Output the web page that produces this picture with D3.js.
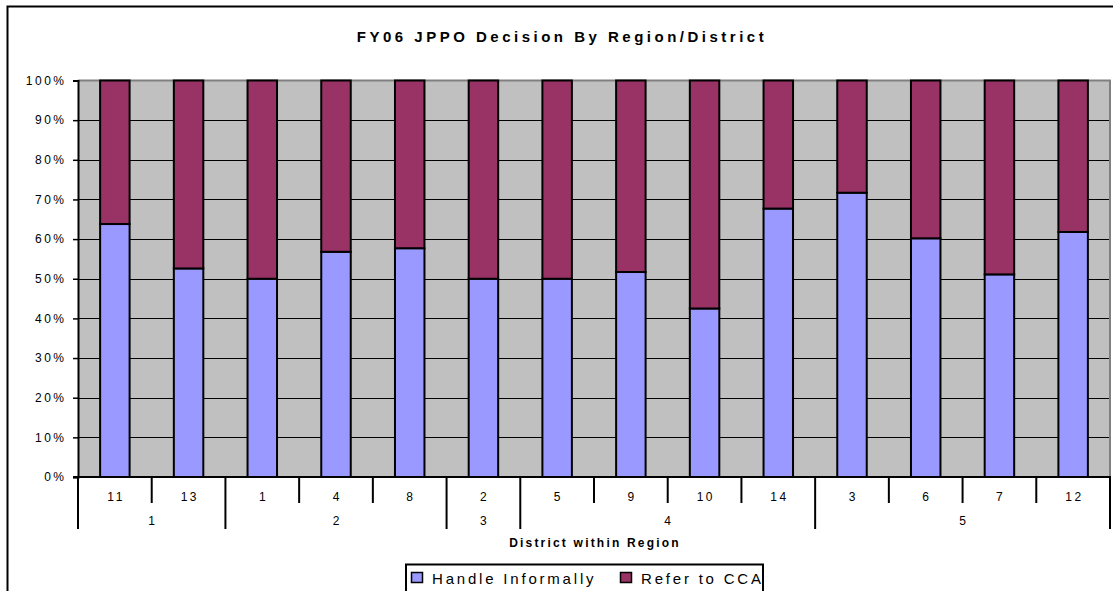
<!DOCTYPE html>
<html lang="en">
	<head>
		<meta charset="utf-8">
		<title>FY06 JPPO Decision By Region/District</title>
		<script type="text/javascript" src="https://cdn.jsdelivr.net/npm/d3@7"></script>
		<style type="text/css">
			body { margin: 0; background: #fff; }
			svg text { font-family: "Liberation Sans", Arial, sans-serif; fill: #000; }
			.axis text { font-size: 12px; letter-spacing: 2.5px; }
			.grid line { stroke: #000; stroke-width: 1; shape-rendering: crispEdges; }
			.title { font-size: 15px; font-weight: bold; letter-spacing: 3.5px; }
			.axis-title { font-size: 12px; font-weight: bold; letter-spacing: 2.2px; }
			.legend text { font-size: 15px; letter-spacing: 2.8px; }
		</style>
	</head>
	<body>
		<script type="text/javascript">

			// categories: district within region
			var districts = ["11", "13", "1", "4", "8", "2", "5", "9", "10", "14", "3", "6", "7", "12"];
			var regions   = ["1", "1", "2", "2", "2", "3", "4", "4", "4", "4", "5", "5", "5", "5"];

			// share of decisions (%)
			var handleInformally = [63.8, 52.6, 50.0, 56.8, 57.7, 50.0, 50.0, 51.7, 42.5, 67.7, 71.7, 60.2, 51.1, 61.8];
			var referToCCA       = [36.2, 47.4, 50.0, 43.2, 42.3, 50.0, 50.0, 48.3, 57.5, 32.3, 28.3, 39.8, 48.9, 38.2];

			var seriesNames  = ["Handle Informally", "Refer to CCA"];
			var seriesColors = ["#9999FF", "#993366"];
			var yTicks = [0, 0.1, 0.2, 0.3, 0.4, 0.5, 0.6, 0.7, 0.8, 0.9, 1];

			var W = 1113, H = 591;
			var plot = {left: 78, right: 1110, top: 80.5, bottom: 477};

			var table = districts.map(function(d, i) {
				return {key: i, district: d, region: regions[i],
					"Handle Informally": handleInformally[i], "Refer to CCA": referToCCA[i]};
			});

			var stacked = d3.stack()
				.keys(seriesNames)
				.offset(d3.stackOffsetExpand)(table);

			var xScale = d3.scaleBand()
				.domain(d3.range(districts.length))
				.range([plot.left, plot.right])
				.paddingInner(0.6)
				.paddingOuter(0.3);

			var yScale = d3.scaleLinear()
				.domain([0, 1])
				.range([plot.bottom, plot.top]);

			var step = xScale.step();

			var svg = d3.select("body")
				.append("svg")
				.attr("width", W)
				.attr("height", H);

			// chart frame (runs off the right and bottom edge)
			svg.append("rect")
				.attr("x", 7.5).attr("y", 6.5)
				.attr("width", 1140).attr("height", 640)
				.attr("fill", "#fff")
				.attr("stroke", "#000")
				.attr("stroke-width", 2);

			svg.append("text")
				.attr("class", "title")
				.attr("x", 562)
				.attr("y", 42)
				.attr("text-anchor", "middle")
				.text("FY06 JPPO Decision By Region/District");

			// plot background
			svg.append("rect")
				.attr("x", plot.left).attr("y", plot.top)
				.attr("width", plot.right - plot.left)
				.attr("height", plot.bottom - plot.top)
				.attr("fill", "#C0C0C0");

			// gridlines
			svg.append("g")
				.attr("class", "grid")
				.selectAll("line")
				.data(yTicks.slice(1, -1))
				.enter()
				.append("line")
				.attr("x1", plot.left).attr("x2", plot.right)
				.attr("y1", function(d) { return Math.round(yScale(d)) + 0.5; })
				.attr("y2", function(d) { return Math.round(yScale(d)) + 0.5; });

			// plot border top / right
			svg.append("path")
				.attr("d", "M" + plot.left + "," + plot.top + "H" + plot.right + "V" + plot.bottom)
				.attr("fill", "none")
				.attr("stroke", "#808080")
				.attr("stroke-width", 2);

			// stacked bars
			svg.selectAll("g.series")
				.data(stacked)
				.enter()
				.append("g")
				.attr("class", "series")
				.attr("fill", function(d, i) { return seriesColors[i]; })
				.selectAll("rect")
				.data(function(d) { return d; })
				.enter()
				.append("rect")
				.attr("x", function(d) { return xScale(d.data.key); })
				.attr("width", xScale.bandwidth())
				.attr("y", function(d) { return yScale(d[1]); })
				.attr("height", function(d) { return yScale(d[0]) - yScale(d[1]); })
				.attr("stroke", "#000")
				.attr("stroke-width", 2);

			// y axis
			var yAxis = d3.axisLeft(yScale)
				.tickValues(yTicks)
				.tickFormat(d3.format(".0%"))
				.tickSize(5)
				.tickPadding(6);

			var yG = svg.append("g")
				.attr("class", "axis")
				.attr("transform", "translate(" + plot.left + ",0)")
				.call(yAxis);
			yG.select(".domain").attr("stroke-width", 2);
			yG.selectAll(".tick line").attr("stroke-width", 1.5);
			yG.selectAll(".tick text").attr("dx", -0.5);

			// x axis: district labels
			var xAxis = d3.axisBottom(xScale)
				.tickFormat(function(i) { return districts[i]; })
				.tickSize(0)
				.tickPadding(15);

			var xG = svg.append("g")
				.attr("class", "axis")
				.attr("transform", "translate(0," + plot.bottom + ")")
				.call(xAxis);
			xG.select(".domain").remove();
			xG.selectAll(".tick text").attr("dx", 1.25);

			svg.append("line")
				.attr("x1", plot.left - 5).attr("x2", plot.right + 1)
				.attr("y1", plot.bottom).attr("y2", plot.bottom)
				.attr("stroke", "#000")
				.attr("stroke-width", 2);

			// boundary ticks: long at region change, short between districts
			var boundaries = d3.range(districts.length + 1);
			svg.append("g")
				.selectAll("line")
				.data(boundaries)
				.enter()
				.append("line")
				.attr("x1", function(i) { return plot.left + i * step; })
				.attr("x2", function(i) { return plot.left + i * step; })
				.attr("y1", plot.bottom)
				.attr("y2", function(i) {
					var isRegion = i === 0 || i === districts.length || regions[i] !== regions[i - 1];
					return isRegion ? 529 : 503;
				})
				.attr("stroke", "#000")
				.attr("stroke-width", 2);

			// region labels
			var regionGroups = d3.groups(table, function(d) { return d.region; });
			svg.append("g")
				.attr("class", "axis")
				.selectAll("text")
				.data(regionGroups)
				.enter()
				.append("text")
				.attr("x", function(g) {
					var first = g[1][0].key, last = g[1][g[1].length - 1].key;
					return plot.left + (first + last + 1) / 2 * step + 1.25;
				})
				.attr("y", 525)
				.attr("text-anchor", "middle")
				.text(function(g) { return g[0]; });

			svg.append("text")
				.attr("class", "axis-title")
				.attr("x", (plot.left + plot.right) / 2 + 1)
				.attr("y", 547)
				.attr("text-anchor", "middle")
				.text("District within Region");

			// legend
			var legend = svg.append("g").attr("class", "legend");
			legend.append("rect")
				.attr("x", 406).attr("y", 564.5)
				.attr("width", 357).attr("height", 40)
				.attr("fill", "#fff")
				.attr("stroke", "#000")
				.attr("stroke-width", 2);

			var legendX = [411, 620];
			var item = legend.selectAll("g.item")
				.data(seriesNames)
				.enter()
				.append("g")
				.attr("class", "item")
				.attr("transform", function(d, i) { return "translate(" + legendX[i] + ",0)"; });
			item.append("rect")
				.attr("x", 0.5).attr("y", 572.5)
				.attr("width", 11).attr("height", 10)
				.attr("fill", function(d, i) { return seriesColors[i]; })
				.attr("stroke", "#000")
				.attr("stroke-width", 1.5);
			item.append("text")
				.attr("x", 21)
				.attr("y", 584)
				.text(function(d) { return d; });
		</script>
	</body>
</html>
